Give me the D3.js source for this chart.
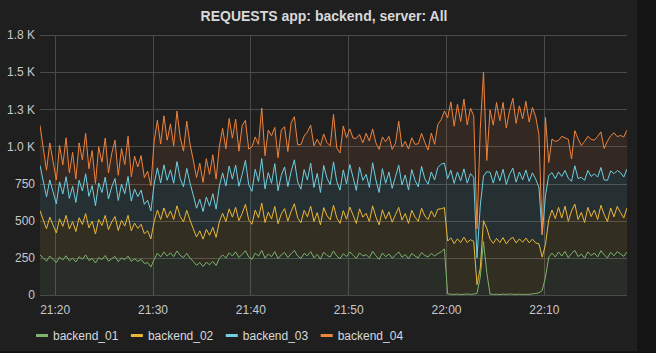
<!DOCTYPE html>
<html>
<head>
<meta charset="utf-8">
<script src="https://d3js.org/d3.v7.min.js"></script>
<style>
  body { margin: 0; background: #141414; }
  svg text { font-family: "Liberation Sans", Arial, sans-serif; }
</style>
</head>
<body>
<svg id="chart" width="656" height="353"></svg>
<script>
  // series + labels (one point every 20 s from 21:18:30)
  const seriesNames = ["backend_01", "backend_02", "backend_03", "backend_04"];
  const seriesColors = ["#7eb26d", "#eab839", "#6ed0e0", "#ef843c"];
  const chartTitle = "REQUESTS app: backend, server: All";
  const startTime = "21:18:30";
  const endTime = "22:18:30";
  const stepSeconds = 20;
  const yTicks = [0, 250, 500, 750, 1000, 1250, 1500, 1750];
  const yTickLabels = ["0", "250", "500", "750", "1.0 K", "1.3 K", "1.5 K", "1.8 K"];
  const xTickLabels = ["21:20", "21:30", "21:40", "21:50", "22:00", "22:10"];

  const backend01 = [
    270, 250, 228, 262, 240, 218, 255, 236, 264, 230,
    248, 222, 258, 240, 270, 232, 246, 215, 252, 238,
    266, 228, 244, 260, 224, 250, 238, 262, 226, 244,
    226, 240, 212, 218, 188, 238, 282, 256, 290, 262,
    284, 258, 296, 266, 252, 280, 248, 226, 200, 218,
    192, 220, 204, 226, 198, 246, 270, 248, 284, 262,
    290, 252, 274, 298, 256, 240, 282, 262, 300, 248,
    276, 258, 292, 244, 270, 286, 252, 278, 300, 262,
    246, 280, 264, 292, 250, 274, 240, 288, 266, 256,
    296, 262, 244, 278, 258, 290, 268, 246, 284, 262,
    272, 250, 294, 264, 240, 282, 258, 276, 248, 268,
    290, 254, 272, 244, 280, 262, 250, 286, 266, 256,
    280, 262, 278, 290, 310, 8, 5, 4, 6, 3,
    5, 7, 4, 6, 10, 120, 360, 150, 6, 4,
    5, 3, 6, 4, 7, 5, 4, 6, 3, 5,
    4, 8, 10, 15, 30, 120, 255, 282, 256, 290,
    262, 294, 250, 280, 300, 258, 276, 248, 290, 266,
    282, 256, 298, 270, 250, 288, 264, 292, 276, 260,
    290
  ];
  const backend02 = [
    298, 255, 218, 262, 230, 200, 258, 226, 272, 214,
    246, 205, 262, 234, 278, 220, 250, 196, 256, 230,
    270, 212, 248, 268, 210, 252, 226, 274, 206, 240,
    222, 236, 200, 214, 190, 256, 290, 252, 296, 258,
    282, 250, 304, 262, 240, 290, 256, 220, 190, 214,
    184, 222, 198, 230, 190, 248, 280, 246, 296, 262,
    300, 248, 276, 312, 250, 236, 290, 258, 318, 240,
    282, 254, 304, 236, 276, 296, 246, 284, 314, 258,
    240, 290, 262, 306, 244, 280, 232, 300, 268, 250,
    308, 258, 238, 290, 252, 302, 270, 236, 296, 262,
    278, 244, 306, 262, 232, 292, 254, 284, 242, 272,
    300, 250, 276, 238, 290, 262, 246, 298, 266, 252,
    286, 262, 300, 290, 278, 355, 380, 342, 372, 350,
    384, 346, 368, 355, 60, 60, 140, 300, 370, 344,
    376, 350, 380, 340, 366, 384, 346, 372, 352, 378,
    348, 368, 340, 330, 225, 220, 250, 290, 258, 300,
    256, 304, 246, 286, 312, 250, 280, 240, 300, 262,
    290, 252, 306, 272, 244, 298, 262, 304, 280, 258,
    296
  ];
  const backend03 = [
    304, 262, 214, 250, 226, 196, 248, 218, 260, 206,
    238, 196, 252, 226, 268, 212, 240, 190, 246, 222,
    258, 206, 236, 256, 202, 244, 218, 262, 200, 230,
    214, 230, 198, 206, 188, 252, 284, 246, 290, 252,
    276, 244, 298, 256, 236, 282, 250, 226, 194, 212,
    186, 218, 196, 226, 190, 240, 272, 240, 288, 256,
    284, 232, 262, 296, 236, 222, 274, 244, 300, 226,
    266, 240, 288, 222, 260, 280, 232, 268, 296, 242,
    226, 274, 248, 290, 230, 264, 218, 284, 252, 236,
    292, 244, 224, 274, 238, 286, 254, 222, 280, 248,
    262, 230, 290, 248, 218, 276, 240, 268, 228, 256,
    284, 236, 260, 224, 274, 248, 232, 282, 250, 238,
    262, 250, 280, 300, 300, 420, 455, 405, 450, 415,
    460, 400, 445, 430, 180, 420, 300, 380, 450, 405,
    455, 415, 460, 400, 440, 465, 410, 450, 420, 458,
    412, 446, 430, 380, 150, 330, 300, 252, 270, 238,
    280, 240, 290, 200, 258, 276, 236, 284, 248, 270,
    244, 286, 254, 232, 278, 250, 290, 242, 268, 276,
    262
  ];
  const backend04 = [
    270, 222, 180, 250, 205, 160, 246, 196, 262, 172,
    228, 158, 252, 210, 272, 186, 236, 150, 244, 204,
    262, 176, 226, 258, 170, 240, 196, 270, 164, 220,
    200, 232, 180, 196, 170, 290, 320, 262, 330, 270,
    310, 252, 340, 276, 240, 318, 262, 236, 206, 244,
    196, 258, 214, 262, 202, 268, 300, 250, 320, 276,
    310, 236, 330, 270, 240, 300, 218, 250, 340, 224,
    286, 320, 244, 222, 306, 270, 236, 330, 290, 250,
    300, 226, 324, 256, 280, 230, 316, 212, 240, 262,
    320, 226, 250, 296, 310, 240, 264, 350, 220, 252,
    276, 312, 228, 250, 290, 214, 280, 240, 262, 226,
    296, 256, 226, 276, 214, 242, 290, 222, 246, 230,
    262, 240, 290, 300, 350, 410, 460, 385, 455, 400,
    470, 392, 440, 415, 195, 520, 700, 75, 420, 390,
    460, 405, 450, 380, 430, 470, 395, 445, 410, 462,
    400, 440, 420, 355, 5, 526, 87, 226, 250, 212,
    270, 220, 262, 150, 236, 268, 214, 262, 230, 250,
    226, 274, 240, 212, 264, 236, 276, 228, 250, 270,
    262
  ];

  let svg = d3.select("svg#chart");
  const parseTime = d3.timeParse("%H:%M:%S");
  const parseTick = d3.timeParse("%H:%M");
  const t0 = parseTime(startTime);

  const rows = backend01.map((v, i) => ({
    time: d3.timeSecond.offset(t0, i * stepSeconds),
    backend_01: v,
    backend_02: backend02[i],
    backend_03: backend03[i],
    backend_04: backend04[i]
  }));
  const stacked = d3.stack().keys(seriesNames)(rows);

  const x = d3.scaleTime().domain([t0, parseTime(endTime)]).range([40, 627]);
  const y = d3.scaleLinear().domain([0, 1750]).range([295, 35]);

  // panel
  svg.append("rect")
    .attr("x", 0).attr("y", 0)
    .attr("width", 637).attr("height", 351)
    .style("fill", "#1f1f20");

  svg.append("defs").append("clipPath").attr("id", "plot")
    .append("rect").attr("x", 40).attr("y", 30).attr("width", 587).attr("height", 266);

  // grid
  const xTicks = xTickLabels.map(d => parseTick(d));
  let grid = svg.append("g");
  yTicks.forEach(d => {
    grid.append("line")
      .attr("x1", 40).attr("x2", 627)
      .attr("y1", Math.round(y(d)) + 0.5).attr("y2", Math.round(y(d)) + 0.5)
      .style("stroke", "#4a4a4a");
  });
  xTicks.forEach(d => {
    grid.append("line")
      .attr("x1", Math.round(x(d)) + 0.5).attr("x2", Math.round(x(d)) + 0.5)
      .attr("y1", y(1750)).attr("y2", y(0))
      .style("stroke", "#4a4a4a");
  });

  // stacked areas + lines
  const area = d3.area()
    .x(d => x(d.data.time))
    .y0(d => y(d[0]))
    .y1(d => y(d[1]));
  const line = d3.line()
    .x(d => x(d.data.time))
    .y(d => y(d[1]));

  let plot = svg.append("g").attr("clip-path", "url(#plot)");
  stacked.forEach((s, i) => {
    plot.append("path")
      .attr("d", area(s))
      .style("fill", seriesColors[i])
      .style("fill-opacity", 0.1);
  });
  stacked.forEach((s, i) => {
    plot.append("path")
      .attr("d", line(s))
      .style("fill", "none")
      .style("stroke", seriesColors[i])
      .style("stroke-width", 1);
  });

  // axes
  let xAxis = svg.append("g")
    .attr("transform", "translate(0,295)")
    .call(d3.axisBottom(x).tickValues(xTicks).tickFormat(d3.timeFormat("%H:%M")).tickSize(0).tickPadding(10.5));
  let yAxis = svg.append("g")
    .attr("transform", "translate(40,0)")
    .call(d3.axisLeft(y).tickValues(yTicks).tickFormat((d, i) => yTickLabels[i]).tickSize(0).tickPadding(5));
  [xAxis, yAxis].forEach(a => {
    a.select(".domain").remove();
    a.selectAll("text")
      .style("font-family", "'Liberation Sans', Arial, sans-serif")
      .style("font-size", "12px")
      .style("fill", "#c8c8c8");
  });

  // title
  svg.append("text")
    .attr("x", 324).attr("y", 21)
    .attr("text-anchor", "middle")
    .style("font-size", "14px")
    .style("font-weight", "bold")
    .style("fill", "#d8d9da")
    .text(chartTitle);

  // legend
  let legend = svg.append("g");
  let lx = 36;
  seriesNames.forEach((name, i) => {
    legend.append("rect")
      .attr("x", lx).attr("y", 334)
      .attr("width", 12).attr("height", 3)
      .style("fill", seriesColors[i]);
    let t = legend.append("text")
      .attr("x", lx + 17).attr("y", 340)
      .style("font-size", "12px")
      .style("fill", "#d8d9da")
      .text(name);
    lx += 17 + t.node().getComputedTextLength() + 12.5;
  });
</script>
</body>
</html>
